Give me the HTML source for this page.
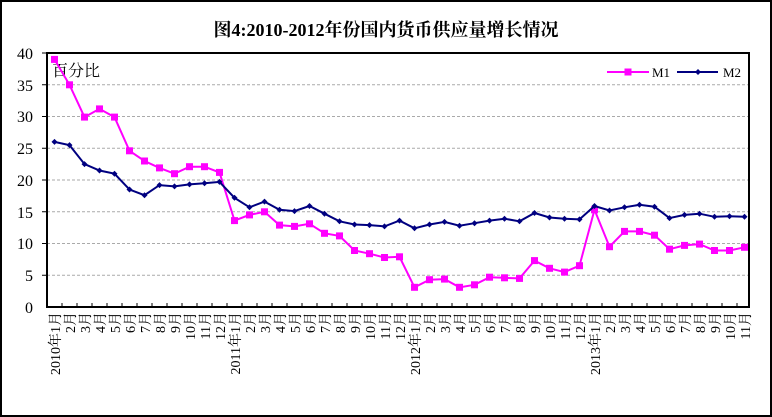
<!DOCTYPE html>
<html><head><meta charset="utf-8"><style>
html,body{margin:0;padding:0;background:#fff;}
svg{display:block;font-family:"Liberation Serif","Noto Serif CJK SC",serif;}
</style></head><body>
<svg width="772" height="417" viewBox="0 0 772 417" xmlns="http://www.w3.org/2000/svg">
<defs>
<marker id="sq" markerUnits="userSpaceOnUse" markerWidth="9" markerHeight="9" refX="4.5" refY="4.5"><rect x="1" y="1" width="7" height="7" fill="#FF00FF"/></marker>
<marker id="dm" markerUnits="userSpaceOnUse" markerWidth="8" markerHeight="8" refX="4" refY="4"><path d="M4 1L7 4L4 7L1 4Z" fill="#000080"/></marker>
</defs>
<rect x="1" y="1" width="770" height="415" fill="#fff" stroke="#000" stroke-width="2"/>
<text x="386" y="36" text-anchor="middle" font-size="18" font-weight="bold">图4:2010-2012年份国内货币供应量增长情况</text>
<g stroke="#aaa" stroke-dasharray="3,2" stroke-width="1">
<line x1="47" x2="749" y1="84.75" y2="84.75"/><line x1="47" x2="749" y1="116.5" y2="116.5"/><line x1="47" x2="749" y1="148.25" y2="148.25"/><line x1="47" x2="749" y1="180" y2="180"/><line x1="47" x2="749" y1="211.75" y2="211.75"/><line x1="47" x2="749" y1="243.5" y2="243.5"/><line x1="47" x2="749" y1="275.25" y2="275.25"/>
</g>
<rect x="596" y="58" width="150" height="24" fill="#fff"/>
<rect x="47" y="53" width="702" height="254" fill="none" stroke="#000" stroke-width="2"/>
<g stroke="#000" stroke-width="1">
<line x1="42" x2="47" y1="53" y2="53"/><line x1="42" x2="47" y1="84.75" y2="84.75"/><line x1="42" x2="47" y1="116.5" y2="116.5"/><line x1="42" x2="47" y1="148.25" y2="148.25"/><line x1="42" x2="47" y1="180" y2="180"/><line x1="42" x2="47" y1="211.75" y2="211.75"/><line x1="42" x2="47" y1="243.5" y2="243.5"/><line x1="42" x2="47" y1="275.25" y2="275.25"/>
<path d="M62 307v-4M77 307v-4M92 307v-4M107 307v-4M122 307v-4M137 307v-4M152 307v-4M167 307v-4M182 307v-4M197 307v-4M212 307v-4M227 307v-4M242 307v-4M257 307v-4M272 307v-4M287 307v-4M302 307v-4M317 307v-4M332 307v-4M347 307v-4M362 307v-4M377 307v-4M392 307v-4M407 307v-4M422 307v-4M437 307v-4M452 307v-4M467 307v-4M482 307v-4M497 307v-4M512 307v-4M527 307v-4M542 307v-4M557 307v-4M572 307v-4M587 307v-4M602 307v-4M617 307v-4M632 307v-4M647 307v-4M662 307v-4M677 307v-4M692 307v-4M707 307v-4M722 307v-4M737 307v-4"/>
</g>
<g font-size="16" text-anchor="end">
<text x="33" y="59">40</text><text x="33" y="91">35</text><text x="33" y="122">30</text><text x="33" y="154">25</text><text x="33" y="186">20</text><text x="33" y="218">15</text><text x="33" y="249">10</text><text x="33" y="281">5</text><text x="33" y="313">0</text>
</g>
<text x="52" y="76" font-size="16">百分比</text>
<polyline fill="none" stroke="#FF00FF" stroke-width="2" marker-start="url(#sq)" marker-mid="url(#sq)" marker-end="url(#sq)" points="54.5,59.4 69.5,84.8 84.5,117.1 99.5,108.9 114.5,117.1 129.5,150.8 144.5,161 159.5,167.9 174.5,173.7 189.5,166.7 204.5,166.7 219.5,172.4 234.5,220.6 249.5,214.9 264.5,211.8 279.5,225.1 294.5,226.4 309.5,223.8 324.5,233.3 339.5,235.9 354.5,250.5 369.5,253.7 384.5,257.5 399.5,256.8 414.5,287.3 429.5,279.7 444.5,279.1 459.5,287.3 474.5,284.8 489.5,277.2 504.5,277.8 519.5,278.4 534.5,260.6 549.5,268.3 564.5,272.1 579.5,265.7 594.5,209.8 609.5,246.7 624.5,231.4 639.5,231.4 654.5,235.2 669.5,249.2 684.5,245.4 699.5,244.1 714.5,250.5 729.5,250.5 744.5,247.3"/>
<polyline fill="none" stroke="#000080" stroke-width="2" marker-start="url(#dm)" marker-mid="url(#dm)" marker-end="url(#dm)" points="54.5,141.9 69.5,145.1 84.5,164.1 99.5,170.5 114.5,173.7 129.5,189.5 144.5,195.2 159.5,185.1 174.5,186.4 189.5,184.4 204.5,183.2 219.5,181.9 234.5,197.8 249.5,207.3 264.5,201.6 279.5,209.8 294.5,211.1 309.5,206 324.5,213.7 339.5,221.3 354.5,224.5 369.5,225.1 384.5,226.4 399.5,220.6 414.5,228.3 429.5,224.5 444.5,221.9 459.5,225.7 474.5,223.2 489.5,220.6 504.5,218.7 519.5,221.3 534.5,213 549.5,217.5 564.5,218.7 579.5,219.4 594.5,206 609.5,210.5 624.5,207.3 639.5,204.8 654.5,206.7 669.5,218.1 684.5,214.9 699.5,213.7 714.5,216.8 729.5,216.2 744.5,216.8"/>
<line x1="607" x2="649" y1="72" y2="72" stroke="#FF00FF" stroke-width="2" marker-mid="url(#sq)"/>
<rect x="624.5" y="68.5" width="7" height="7" fill="#FF00FF"/>
<text x="652" y="77" font-size="13">M1</text>
<line x1="677" x2="718" y1="72" y2="72" stroke="#000080" stroke-width="2"/>
<path d="M698 69L701 72L698 75L695 72Z" fill="#000080"/>
<text x="723" y="77" font-size="13">M2</text>
<g font-size="14" text-anchor="end">
<text transform="translate(60,312) rotate(-90)">2010年1月</text>
<text transform="translate(75,312) rotate(-90)">2月</text>
<text transform="translate(90,312) rotate(-90)">3月</text>
<text transform="translate(105,312) rotate(-90)">4月</text>
<text transform="translate(120,312) rotate(-90)">5月</text>
<text transform="translate(135,312) rotate(-90)">6月</text>
<text transform="translate(150,312) rotate(-90)">7月</text>
<text transform="translate(165,312) rotate(-90)">8月</text>
<text transform="translate(180,312) rotate(-90)">9月</text>
<text transform="translate(195,312) rotate(-90)">10月</text>
<text transform="translate(210,312) rotate(-90)">11月</text>
<text transform="translate(225,312) rotate(-90)">12月</text>
<text transform="translate(240,312) rotate(-90)">2011年1月</text>
<text transform="translate(255,312) rotate(-90)">2月</text>
<text transform="translate(270,312) rotate(-90)">3月</text>
<text transform="translate(285,312) rotate(-90)">4月</text>
<text transform="translate(300,312) rotate(-90)">5月</text>
<text transform="translate(315,312) rotate(-90)">6月</text>
<text transform="translate(330,312) rotate(-90)">7月</text>
<text transform="translate(345,312) rotate(-90)">8月</text>
<text transform="translate(360,312) rotate(-90)">9月</text>
<text transform="translate(375,312) rotate(-90)">10月</text>
<text transform="translate(390,312) rotate(-90)">11月</text>
<text transform="translate(405,312) rotate(-90)">12月</text>
<text transform="translate(420,312) rotate(-90)">2012年1月</text>
<text transform="translate(435,312) rotate(-90)">2月</text>
<text transform="translate(450,312) rotate(-90)">3月</text>
<text transform="translate(465,312) rotate(-90)">4月</text>
<text transform="translate(480,312) rotate(-90)">5月</text>
<text transform="translate(495,312) rotate(-90)">6月</text>
<text transform="translate(510,312) rotate(-90)">7月</text>
<text transform="translate(525,312) rotate(-90)">8月</text>
<text transform="translate(540,312) rotate(-90)">9月</text>
<text transform="translate(555,312) rotate(-90)">10月</text>
<text transform="translate(570,312) rotate(-90)">11月</text>
<text transform="translate(585,312) rotate(-90)">12月</text>
<text transform="translate(600,312) rotate(-90)">2013年1月</text>
<text transform="translate(615,312) rotate(-90)">2月</text>
<text transform="translate(630,312) rotate(-90)">3月</text>
<text transform="translate(645,312) rotate(-90)">4月</text>
<text transform="translate(660,312) rotate(-90)">5月</text>
<text transform="translate(675,312) rotate(-90)">6月</text>
<text transform="translate(690,312) rotate(-90)">7月</text>
<text transform="translate(705,312) rotate(-90)">8月</text>
<text transform="translate(720,312) rotate(-90)">9月</text>
<text transform="translate(735,312) rotate(-90)">10月</text>
<text transform="translate(750,312) rotate(-90)">11月</text>
</g>
</svg>
</body></html>
